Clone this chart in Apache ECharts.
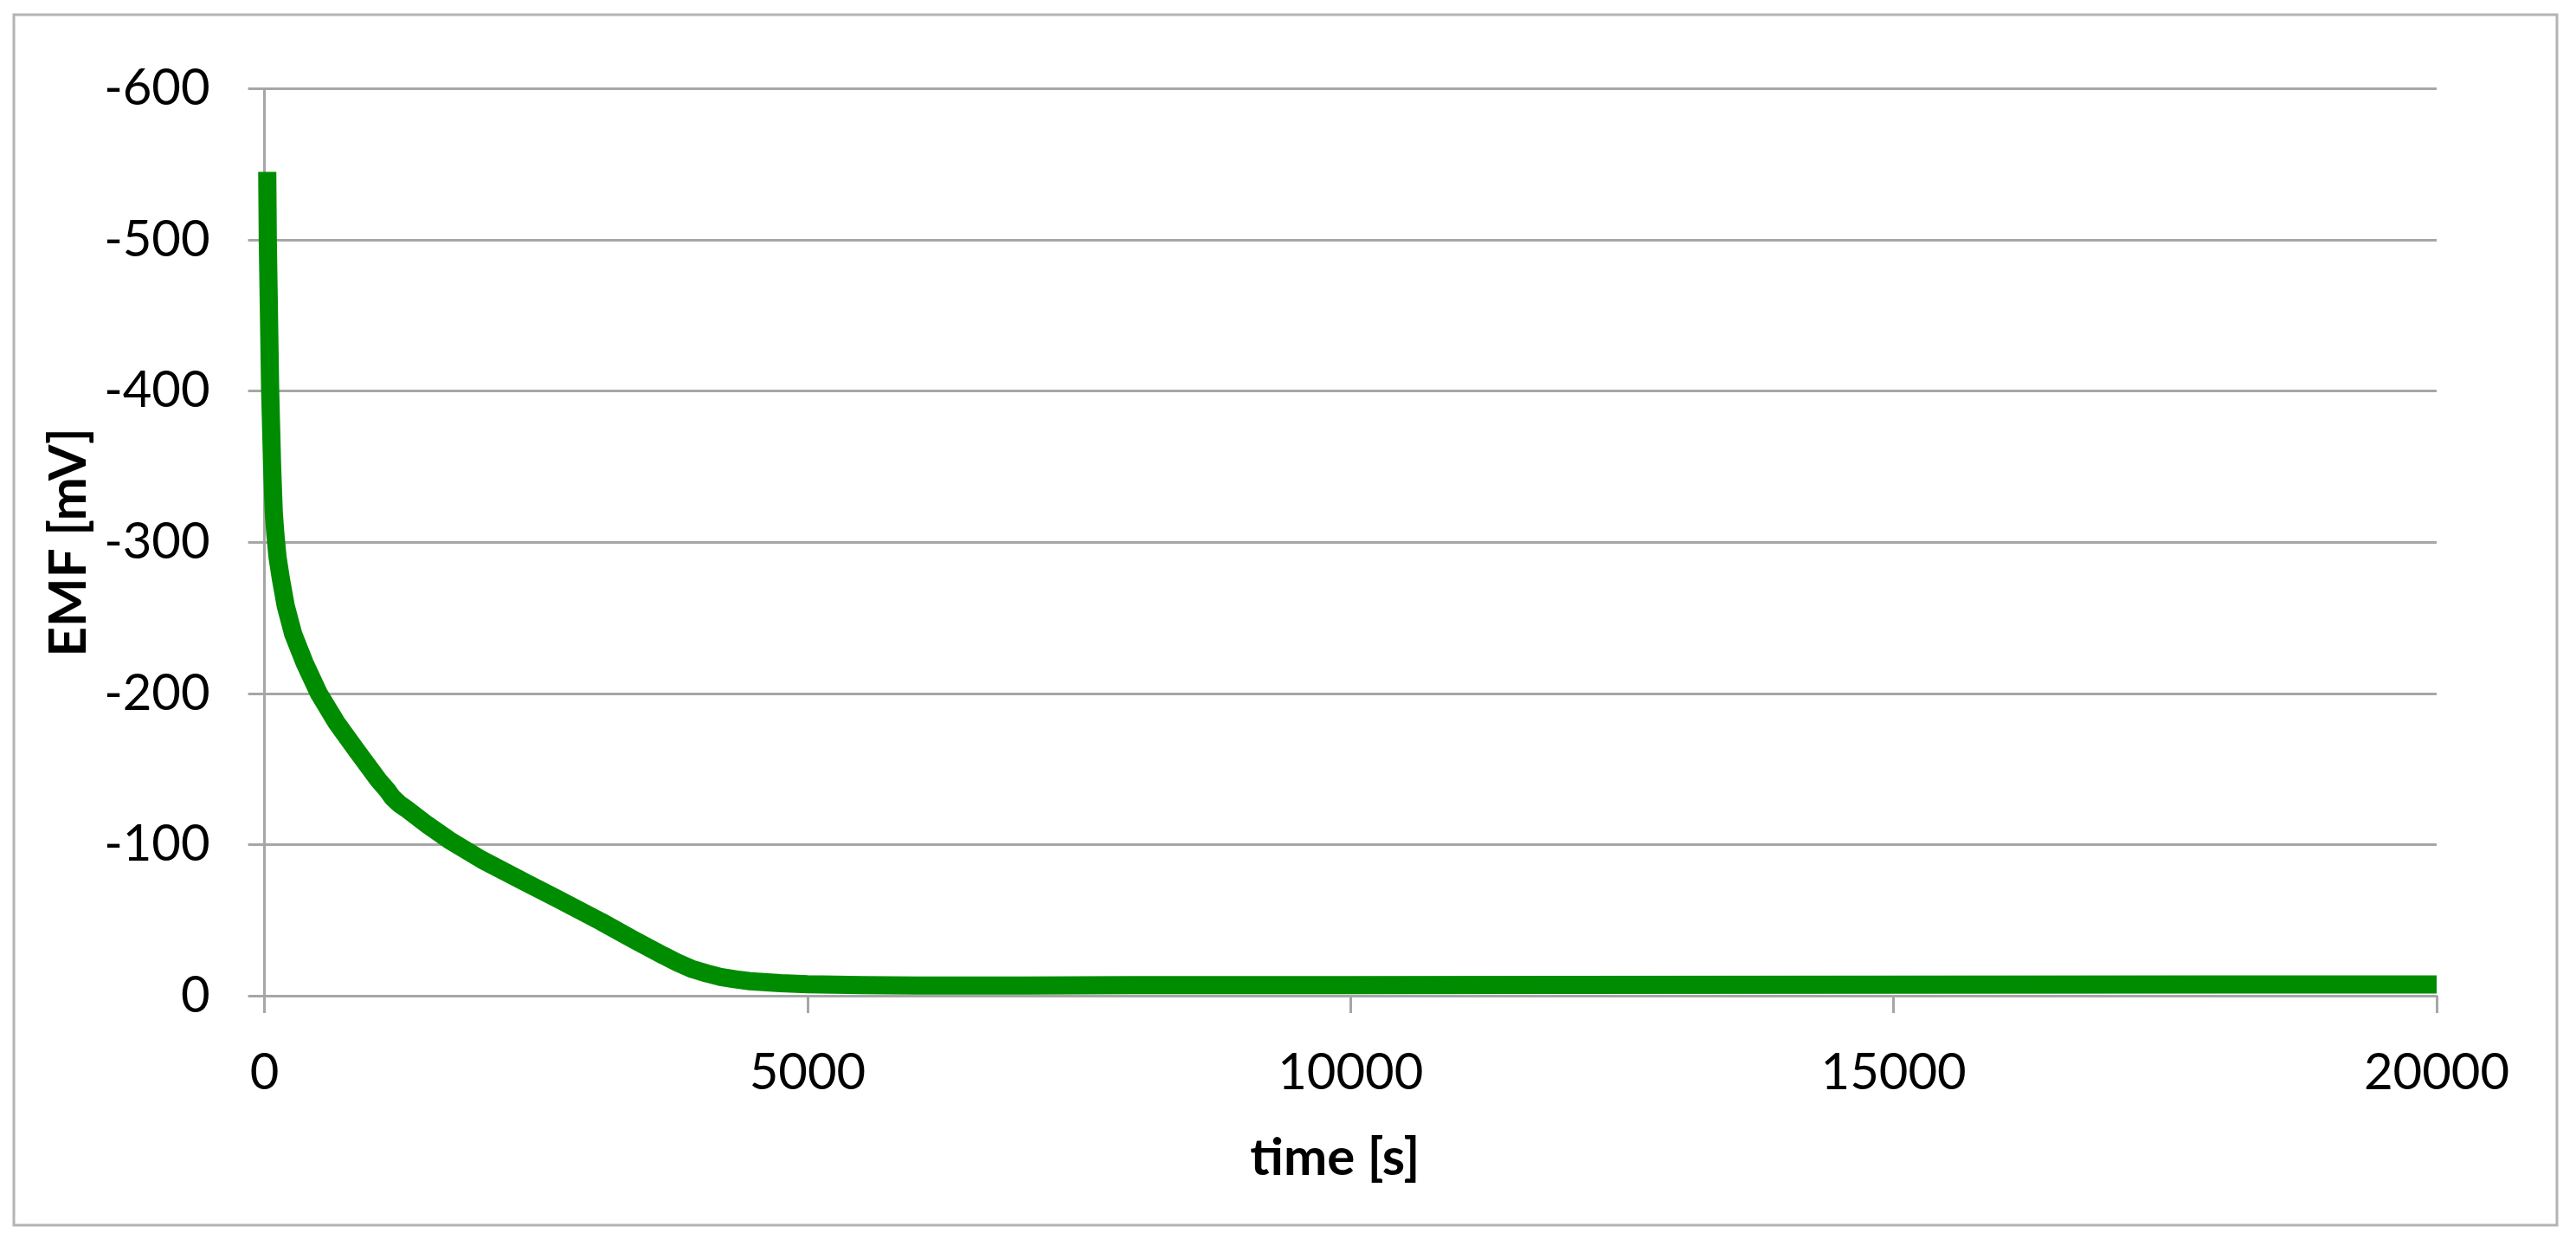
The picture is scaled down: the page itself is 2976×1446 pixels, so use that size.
<!DOCTYPE html>
<html>
<head>
<meta charset="utf-8">
<script src="https://cdn.jsdelivr.net/npm/echarts@6/dist/echarts.min.js"></script>
<style>
html,body{margin:0;padding:0;background:#fff;}
#chart{width:2976px;height:1446px;}
</style>
</head>
<body>
<div id="chart"></div>
<script>
// time [s]
const timeValues = [25, 30, 52, 70, 85, 100, 120, 150, 195, 265, 370, 500, 660, 850, 1045, 1130, 1180, 1240, 1300, 1500, 1700, 2000, 2400, 2700, 3100, 3400, 3675, 3800, 3940, 4070, 4200, 4340, 4470, 4750, 5000, 5500, 6000, 7000, 8000, 10000, 12000, 15000, 18000, 20000];
// EMF [mV]
const emfValues = [-545, -500, -400, -350, -320, -305, -290, -276, -258, -239, -220, -200, -181, -162, -143, -136, -131, -127, -124, -113, -103, -90, -75, -64, -49, -37, -26.5, -22, -17.6, -14.8, -12.4, -10.8, -9.6, -8.3, -7.6, -7, -6.8, -6.8, -7, -7, -7.2, -7.3, -7.4, -7.5];
const xTicks = [0, 5000, 10000, 15000, 20000];
const yTicks = [-600, -500, -400, -300, -200, -100, 0];
const xTitle = 'time [s]';
const yTitle = 'EMF [mV]';

const FONT = 'Lato';
const GRAY = '#a6a6a6';
const seriesData = timeValues.map((t, i) => [t, emfValues[i]]);

const chart = echarts.init(document.getElementById('chart'), null, {renderer: 'canvas'});
chart.setOption({
  backgroundColor: '#ffffff',
  animation: false,
  graphic: [{
    type: 'rect',
    shape: {x: 16, y: 17, width: 2938, height: 1398},
    style: {fill: 'none', stroke: '#b4b4b4', lineWidth: 3},
    silent: true
  }],
  grid: {left: 305.6, right: 161, top: 102.5, bottom: 296, containLabel: false},
  xAxis: {
    type: 'value',
    min: xTicks[0],
    max: xTicks[xTicks.length - 1],
    interval: xTicks[1] - xTicks[0],
    name: xTitle,
    nameLocation: 'middle',
    nameGap: 158,
    nameTextStyle: {fontFamily: FONT, fontSize: 60, fontWeight: 'bold', color: '#000', padding: [0, 36, 0, 0]},
    axisLine: {show: true, onZero: false, lineStyle: {color: GRAY, width: 3}},
    axisTick: {show: true, inside: false, length: 20, lineStyle: {color: GRAY, width: 3}},
    axisLabel: {fontFamily: FONT, fontSize: 58, color: '#000', margin: 60, formatter: v => String(v)},
    splitLine: {show: false}
  },
  yAxis: {
    type: 'value',
    inverse: true,
    min: yTicks[0],
    max: yTicks[yTicks.length - 1],
    interval: yTicks[1] - yTicks[0],
    name: yTitle,
    nameLocation: 'middle',
    nameGap: 192,
    nameTextStyle: {fontFamily: FONT, fontSize: 60, fontWeight: 'bold', color: '#000'},
    axisLine: {show: true, onZero: false, lineStyle: {color: GRAY, width: 3}},
    axisTick: {show: true, inside: false, length: 19, lineStyle: {color: GRAY, width: 3}},
    axisLabel: {fontFamily: FONT, fontSize: 58, color: '#000', margin: 63, formatter: v => String(v)},
    splitLine: {show: true, lineStyle: {color: GRAY, width: 3}}
  },
  series: [{
    type: 'line',
    data: seriesData,
    showSymbol: false,
    symbol: 'none',
    smooth: false,
    clip: true,
    lineStyle: {color: 'rgb(0,140,0)', width: 21, join: 'round', cap: 'butt'}
  }]
});
</script>
</body>
</html>
